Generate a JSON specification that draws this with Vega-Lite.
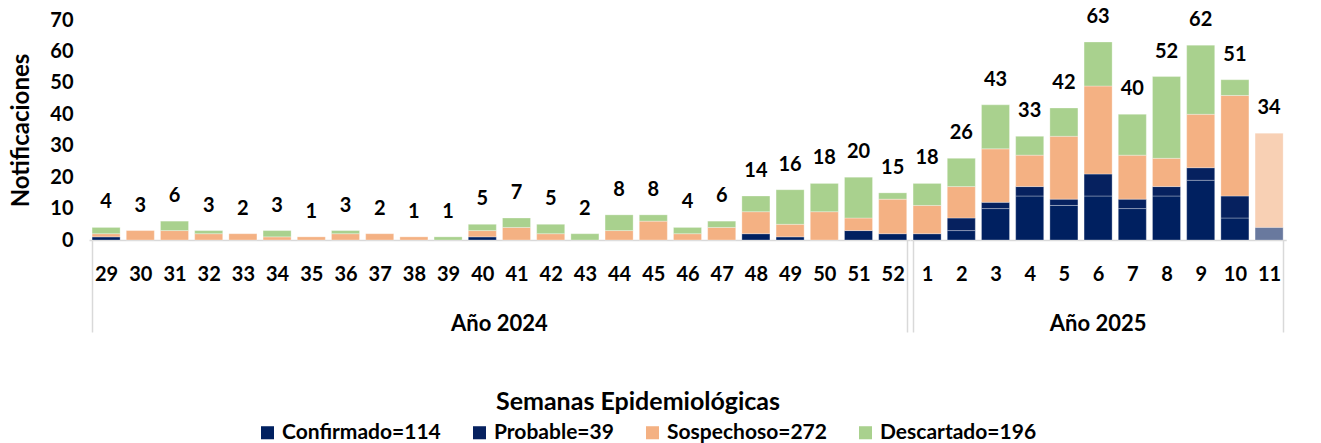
{
  "$schema": "https://vega.github.io/schema/vega-lite/v6.json",
  "padding": {"left": 9, "top": 6, "right": 5, "bottom": 0},
  "title": {
    "text": "Semanas Epidemiológicas",
    "orient": "bottom",
    "anchor": "middle",
    "frame": "bounds",
    "offset": -53,
    "dx": -10,
    "font": "Lato",
    "fontSize": 25,
    "fontWeight": "bold",
    "color": "#000000"
  },
  "config": {
    "font": "Lato",
    "view": {"stroke": null},
    "axis": {"labelFont": "Lato", "titleFont": "Lato"}
  },
  "data": {
    "values": [
      {"anio": 2024, "semana": 29, "categoria": "Confirmado", "n": 1},
      {"anio": 2024, "semana": 29, "categoria": "Sospechoso", "n": 1},
      {"anio": 2024, "semana": 29, "categoria": "Descartado", "n": 2},
      {"anio": 2024, "semana": 30, "categoria": "Sospechoso", "n": 3},
      {"anio": 2024, "semana": 31, "categoria": "Sospechoso", "n": 3},
      {"anio": 2024, "semana": 31, "categoria": "Descartado", "n": 3},
      {"anio": 2024, "semana": 32, "categoria": "Sospechoso", "n": 2},
      {"anio": 2024, "semana": 32, "categoria": "Descartado", "n": 1},
      {"anio": 2024, "semana": 33, "categoria": "Sospechoso", "n": 2},
      {"anio": 2024, "semana": 34, "categoria": "Sospechoso", "n": 1},
      {"anio": 2024, "semana": 34, "categoria": "Descartado", "n": 2},
      {"anio": 2024, "semana": 35, "categoria": "Sospechoso", "n": 1},
      {"anio": 2024, "semana": 36, "categoria": "Sospechoso", "n": 2},
      {"anio": 2024, "semana": 36, "categoria": "Descartado", "n": 1},
      {"anio": 2024, "semana": 37, "categoria": "Sospechoso", "n": 2},
      {"anio": 2024, "semana": 38, "categoria": "Sospechoso", "n": 1},
      {"anio": 2024, "semana": 39, "categoria": "Descartado", "n": 1},
      {"anio": 2024, "semana": 40, "categoria": "Confirmado", "n": 1},
      {"anio": 2024, "semana": 40, "categoria": "Sospechoso", "n": 2},
      {"anio": 2024, "semana": 40, "categoria": "Descartado", "n": 2},
      {"anio": 2024, "semana": 41, "categoria": "Sospechoso", "n": 4},
      {"anio": 2024, "semana": 41, "categoria": "Descartado", "n": 3},
      {"anio": 2024, "semana": 42, "categoria": "Sospechoso", "n": 2},
      {"anio": 2024, "semana": 42, "categoria": "Descartado", "n": 3},
      {"anio": 2024, "semana": 43, "categoria": "Descartado", "n": 2},
      {"anio": 2024, "semana": 44, "categoria": "Sospechoso", "n": 3},
      {"anio": 2024, "semana": 44, "categoria": "Descartado", "n": 5},
      {"anio": 2024, "semana": 45, "categoria": "Sospechoso", "n": 6},
      {"anio": 2024, "semana": 45, "categoria": "Descartado", "n": 2},
      {"anio": 2024, "semana": 46, "categoria": "Sospechoso", "n": 2},
      {"anio": 2024, "semana": 46, "categoria": "Descartado", "n": 2},
      {"anio": 2024, "semana": 47, "categoria": "Sospechoso", "n": 4},
      {"anio": 2024, "semana": 47, "categoria": "Descartado", "n": 2},
      {"anio": 2024, "semana": 48, "categoria": "Confirmado", "n": 2},
      {"anio": 2024, "semana": 48, "categoria": "Sospechoso", "n": 7},
      {"anio": 2024, "semana": 48, "categoria": "Descartado", "n": 5},
      {"anio": 2024, "semana": 49, "categoria": "Confirmado", "n": 1},
      {"anio": 2024, "semana": 49, "categoria": "Sospechoso", "n": 4},
      {"anio": 2024, "semana": 49, "categoria": "Descartado", "n": 11},
      {"anio": 2024, "semana": 50, "categoria": "Sospechoso", "n": 9},
      {"anio": 2024, "semana": 50, "categoria": "Descartado", "n": 9},
      {"anio": 2024, "semana": 51, "categoria": "Confirmado", "n": 3},
      {"anio": 2024, "semana": 51, "categoria": "Sospechoso", "n": 4},
      {"anio": 2024, "semana": 51, "categoria": "Descartado", "n": 13},
      {"anio": 2024, "semana": 52, "categoria": "Confirmado", "n": 2},
      {"anio": 2024, "semana": 52, "categoria": "Sospechoso", "n": 11},
      {"anio": 2024, "semana": 52, "categoria": "Descartado", "n": 2},
      {"anio": 2025, "semana": 1, "categoria": "Confirmado", "n": 2},
      {"anio": 2025, "semana": 1, "categoria": "Sospechoso", "n": 9},
      {"anio": 2025, "semana": 1, "categoria": "Descartado", "n": 7},
      {"anio": 2025, "semana": 2, "categoria": "Confirmado", "n": 3},
      {"anio": 2025, "semana": 2, "categoria": "Probable", "n": 4},
      {"anio": 2025, "semana": 2, "categoria": "Sospechoso", "n": 10},
      {"anio": 2025, "semana": 2, "categoria": "Descartado", "n": 9},
      {"anio": 2025, "semana": 3, "categoria": "Confirmado", "n": 10},
      {"anio": 2025, "semana": 3, "categoria": "Probable", "n": 2},
      {"anio": 2025, "semana": 3, "categoria": "Sospechoso", "n": 17},
      {"anio": 2025, "semana": 3, "categoria": "Descartado", "n": 14},
      {"anio": 2025, "semana": 4, "categoria": "Confirmado", "n": 14},
      {"anio": 2025, "semana": 4, "categoria": "Probable", "n": 3},
      {"anio": 2025, "semana": 4, "categoria": "Sospechoso", "n": 10},
      {"anio": 2025, "semana": 4, "categoria": "Descartado", "n": 6},
      {"anio": 2025, "semana": 5, "categoria": "Confirmado", "n": 11},
      {"anio": 2025, "semana": 5, "categoria": "Probable", "n": 2},
      {"anio": 2025, "semana": 5, "categoria": "Sospechoso", "n": 20},
      {"anio": 2025, "semana": 5, "categoria": "Descartado", "n": 9},
      {"anio": 2025, "semana": 6, "categoria": "Confirmado", "n": 14},
      {"anio": 2025, "semana": 6, "categoria": "Probable", "n": 7},
      {"anio": 2025, "semana": 6, "categoria": "Sospechoso", "n": 28},
      {"anio": 2025, "semana": 6, "categoria": "Descartado", "n": 14},
      {"anio": 2025, "semana": 7, "categoria": "Confirmado", "n": 10},
      {"anio": 2025, "semana": 7, "categoria": "Probable", "n": 3},
      {"anio": 2025, "semana": 7, "categoria": "Sospechoso", "n": 14},
      {"anio": 2025, "semana": 7, "categoria": "Descartado", "n": 13},
      {"anio": 2025, "semana": 8, "categoria": "Confirmado", "n": 14},
      {"anio": 2025, "semana": 8, "categoria": "Probable", "n": 3},
      {"anio": 2025, "semana": 8, "categoria": "Sospechoso", "n": 9},
      {"anio": 2025, "semana": 8, "categoria": "Descartado", "n": 26},
      {"anio": 2025, "semana": 9, "categoria": "Confirmado", "n": 19},
      {"anio": 2025, "semana": 9, "categoria": "Probable", "n": 4},
      {"anio": 2025, "semana": 9, "categoria": "Sospechoso", "n": 17},
      {"anio": 2025, "semana": 9, "categoria": "Descartado", "n": 22},
      {"anio": 2025, "semana": 10, "categoria": "Confirmado", "n": 7},
      {"anio": 2025, "semana": 10, "categoria": "Probable", "n": 7},
      {"anio": 2025, "semana": 10, "categoria": "Sospechoso", "n": 32},
      {"anio": 2025, "semana": 10, "categoria": "Descartado", "n": 5},
      {"anio": 2025, "semana": 11, "categoria": "Probable", "n": 4},
      {"anio": 2025, "semana": 11, "categoria": "Sospechoso", "n": 30}
    ]
  },
  "transform": [
    {
      "lookup": "categoria",
      "from": {
        "data": {
          "values": [
            {"categoria": "Confirmado", "rango": 1},
            {"categoria": "Probable", "rango": 2},
            {"categoria": "Sospechoso", "rango": 3},
            {"categoria": "Descartado", "rango": 4}
          ]
        },
        "key": "categoria",
        "fields": ["rango"]
      }
    }
  ],
  "facet": {
    "column": {
      "field": "anio",
      "type": "ordinal",
      "title": null,
      "header": {
        "labelOrient": "bottom",
        "labelExpr": "'Año ' + datum.value",
        "labelFont": "Lato",
        "labelFontSize": 22,
        "labelFontWeight": "bold",
        "labelColor": "#000000",
        "labelPadding": -19
      }
    }
  },
  "spacing": 0,
  "resolve": {"scale": {"x": "independent"}},
  "spec": {
    "width": {"step": 34.2},
    "height": 220,
    "layer": [
      {
        "mark": {"type": "bar", "stroke": "#ffffff", "strokeWidth": 0.6, "strokeOpacity": 0.5},
        "encoding": {
          "x": {
            "field": "semana",
            "type": "ordinal",
            "sort": "ascending",
            "scale": {"paddingInner": 0.18, "paddingOuter": 0.09},
            "axis": {
              "title": null,
              "labelAngle": 0,
              "labelFontSize": 20,
              "labelFontWeight": "bold",
              "labelColor": "#000000",
              "domainColor": "#d9d9d9",
              "domainWidth": 1.5,
              "tickColor": "#d9d9d9",
              "tickWidth": 1.5,
              "tickSize": 92,
              "tickBand": "extent",
              "tickOpacity": {"condition": {"test": "datum.extra || datum.value == 52 || datum.value == 11", "value": 1}, "value": 0},
              "labelPadding": -68
            }
          },
          "y": {
            "field": "n",
            "type": "quantitative",
            "stack": "zero",
            "scale": {"domain": [0, 70]},
            "axis": {
              "title": "Notificaciones",
              "titleFontSize": 24,
              "titleFontWeight": "bold",
              "titleColor": "#000000",
              "titlePadding": 16,
              "values": [0, 10, 20, 30, 40, 50, 60, 70],
              "labelOverlap": false,
              "grid": false,
              "domain": false,
              "ticks": false,
              "labelFontSize": 20,
              "labelFontWeight": "bold",
              "labelColor": "#000000",
              "labelPadding": 16
            }
          },
          "order": {"field": "rango", "type": "quantitative", "sort": "ascending"},
          "color": {
            "field": "categoria",
            "type": "nominal",
            "scale": {
              "domain": ["Confirmado", "Probable", "Sospechoso", "Descartado"],
              "range": ["#002060", "#06215f", "#f4b183", "#a9d18e"]
            },
            "legend": {
              "title": null,
              "orient": "none",
              "legendX": 168,
              "legendY": 402,
              "direction": "horizontal",
              "symbolType": "square",
              "symbolSize": 170,
              "symbolStrokeWidth": 0,
              "labelFontSize": 21,
              "labelFontWeight": "bold",
              "labelColor": "#000000",
              "labelFont": "Lato",
              "columnPadding": 28,
              "labelExpr": "{'Confirmado': 'Confirmado=114', 'Probable': 'Probable=39', 'Sospechoso': 'Sospechoso=272', 'Descartado': 'Descartado=196'}[datum.label]"
            }
          },
          "opacity": {
            "condition": {"test": "datum.anio == 2025 && datum.semana == 11", "value": 0.6},
            "value": 1
          }
        }
      },
      {
        "mark": {"type": "text", "baseline": "middle", "dy": -25, "fontSize": 20, "fontWeight": "bold", "color": "#000000"},
        "encoding": {
          "x": {
            "field": "semana",
            "type": "ordinal",
            "sort": "ascending",
            "axis": {
              "title": null,
              "labelAngle": 0,
              "labelFontSize": 20,
              "labelFontWeight": "bold",
              "labelColor": "#000000",
              "domainColor": "#d9d9d9",
              "domainWidth": 1.5,
              "tickColor": "#d9d9d9",
              "tickWidth": 1.5,
              "tickSize": 92,
              "tickBand": "extent",
              "tickOpacity": {"condition": {"test": "datum.extra || datum.value == 52 || datum.value == 11", "value": 1}, "value": 0},
              "labelPadding": -68
            }
          },
          "y": {
            "aggregate": "sum",
            "field": "n",
            "type": "quantitative",
            "axis": {
              "title": "Notificaciones",
              "titleFontSize": 24,
              "titleFontWeight": "bold",
              "titleColor": "#000000",
              "titlePadding": 16,
              "values": [0, 10, 20, 30, 40, 50, 60, 70],
              "labelOverlap": false,
              "grid": false,
              "domain": false,
              "ticks": false,
              "labelFontSize": 20,
              "labelFontWeight": "bold",
              "labelColor": "#000000",
              "labelPadding": 16
            }
          },
          "text": {"aggregate": "sum", "field": "n", "type": "quantitative"}
        }
      }
    ]
  }
}
